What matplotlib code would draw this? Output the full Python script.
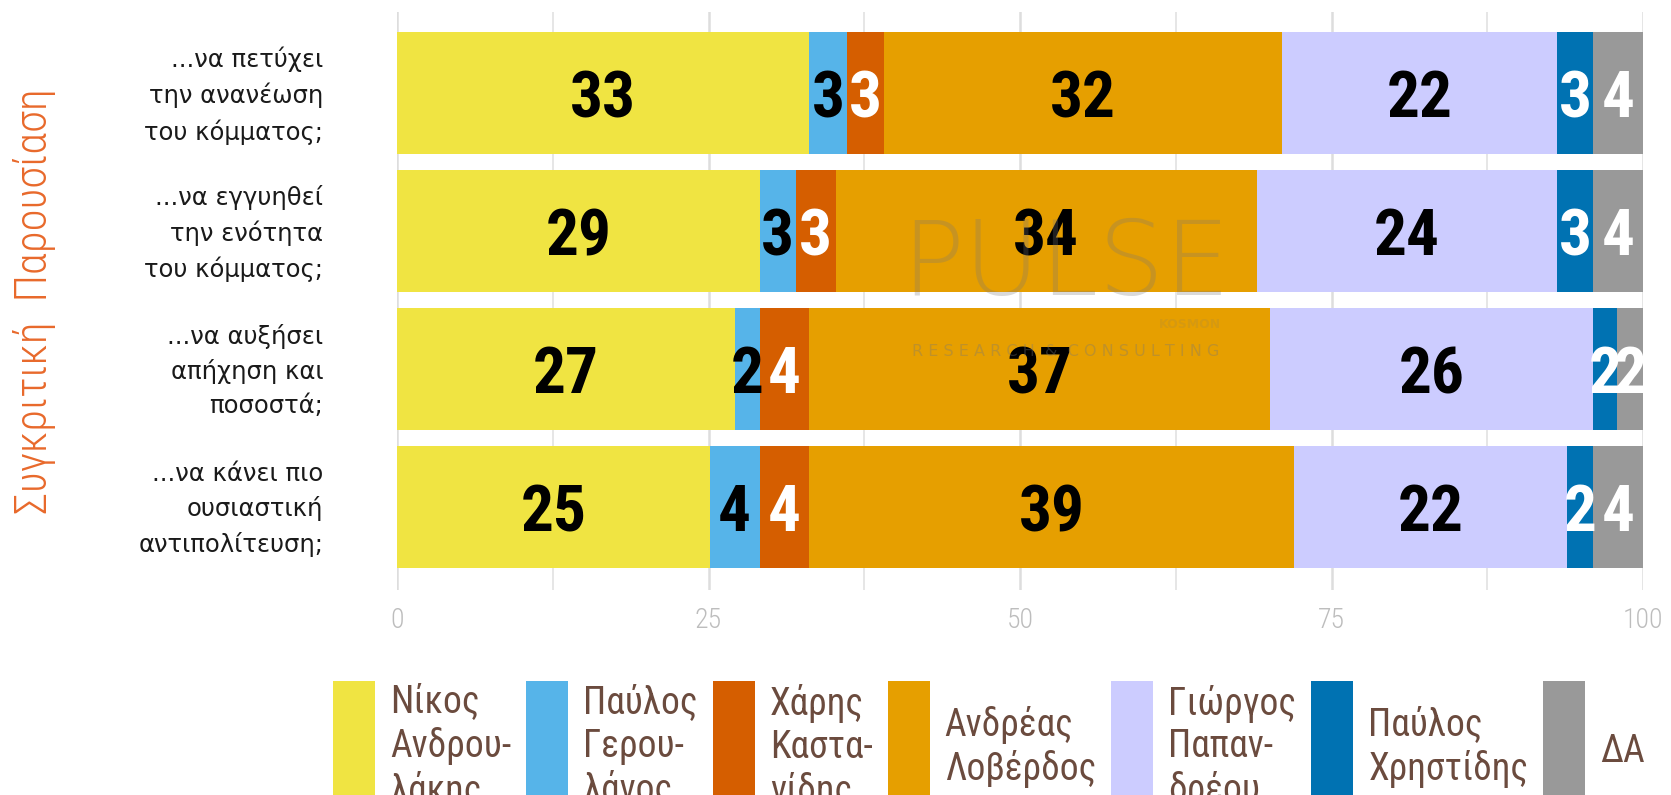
import matplotlib
matplotlib.use('Agg')
import matplotlib.pyplot as plt
import matplotlib.transforms as mtransforms
from matplotlib.patches import Patch, Rectangle
from matplotlib.legend_handler import HandlerPatch

# --- Data ---
questions = ['...να πετύχει\nτην ανανέωση\nτου κόμματος;',
             '...να εγγυηθεί\nτην ενότητα\nτου κόμματος;',
             '...να αυξήσει\nαπήχηση και\nποσοστά;',
             '...να κάνει πιο\nουσιαστική\nαντιπολίτευση;']
candidates = ['Νίκος\nΑνδρου-\nλάκης', 'Παύλος\nΓερου-\nλάνος', 'Χάρης\nΚαστα-\nνίδης',
              'Ανδρέας\nΛοβέρδος', 'Γιώργος\nΠαπαν-\nδρέου', 'Παύλος\nΧρηστίδης', 'ΔΑ']
androulakis = [33.1, 29.1, 27.1, 25.1]
geroulanos = [3.0, 2.9, 2.0, 4.0]
kastanidis = [3.0, 3.2, 4.0, 4.0]
loverdos = [31.9, 33.8, 37.0, 38.9]
papandreou = [22.1, 24.1, 25.9, 21.9]
christidis = [2.9, 2.9, 1.9, 2.1]
da = [4.0, 4.0, 2.1, 4.0]
series = [androulakis, geroulanos, kastanidis, loverdos, papandreou, christidis, da]

colors = ['#F0E442', '#56B4E9', '#D55E00', '#E69F00', '#CCCCFF', '#0072B2', '#999999']
label_colors = ['black', 'black', 'white', 'black', 'black', 'white', 'white']

COND = ['Roboto Condensed', 'DejaVu Sans']
W, H = 1671, 795

fig = plt.figure(figsize=(W / 100, H / 100), dpi=100)
ax = fig.add_axes([397 / W, 1 - 590 / H, (1643 - 397) / W, 578 / H])

# --- stacked bars ---
left = [0.0] * len(questions)
ypos = list(range(len(questions)))
for vals, col, lcol in zip(series, colors, label_colors):
    bars = ax.barh(ypos, vals, left=left, height=0.884, color=col, zorder=2)
    for b, v in zip(bars, vals):
        ax.text(b.get_x() + b.get_width() / 2, b.get_y() + b.get_height() / 2,
                f'{round(v):d}', ha='center', va='center_baseline',
                fontsize=47, fontweight='bold', color=lcol, family=COND, zorder=3)
    left = [l + v for l, v in zip(left, vals)]

ax.set_xlim(0, 100)
ax.set_ylim(3.601, -0.587)
ax.set_xticks([0, 25, 50, 75, 100])
ax.set_xticks([12.5, 37.5, 62.5, 87.5], minor=True)
ax.grid(which='major', axis='x', color='#DDDDDD', lw=1.8, zorder=0)
ax.grid(which='minor', axis='x', color='#E4E4E4', lw=1.3, zorder=0)
ax.set_axisbelow(True)
for s in ax.spines.values():
    s.set_visible(False)
ax.tick_params(axis='x', which='both', length=0, pad=12, labelsize=20, labelcolor='#BDBDBD')
for t in ax.get_xticklabels():
    t.set_family(COND)
    t.set_fontweight(300)
ax.set_yticks(ypos, questions)
ax.tick_params(axis='y', length=0, pad=53, labelsize=17.5, labelcolor='#1A1A1A')
lift = mtransforms.ScaledTranslation(0, 5.5 / 100, fig.dpi_scale_trans)
for t in ax.get_yticklabels():
    t.set_linespacing(1.53)
    t.set_transform(t.get_transform() + lift)

# side title
fig.text(35 / W, 1 - 301 / H, 'Συγκριτική  Παρουσίαση', rotation=90, ha='center', va='center',
         color='#E8692B', fontsize=32, fontweight=300, family=COND)

# watermark
fig.text(1066 / W, 1 - 266 / H, 'PULSE', ha='center', va='center', fontsize=75,
         fontweight='light', color='#777777', alpha=0.28, zorder=5)
fig.text(1190 / W, 1 - 325 / H, 'KOSMON', ha='center', va='center', fontsize=9,
         fontweight='bold', color='#777777', alpha=0.15, zorder=5)
fig.text(1066 / W, 1 - 352 / H, 'R E S E A R C H  &  C O N S U L T I N G', ha='center',
         va='center', fontsize=11.5, color='#777777', alpha=0.35, zorder=5)

# --- legend ---
LEG_FS = 27


def tall_patch(legend, orig_handle, xdescent, ydescent, width, height, fontsize):
    top = 0.35 * fontsize + 67 / 1.389
    bottom = 0.35 * fontsize - 130 / 1.389
    return Rectangle((-xdescent, bottom), width, top - bottom)


handles = [Patch(facecolor=c, edgecolor='none') for c in colors]
leg = fig.legend(handles, candidates, ncol=7, loc='center left',
                 bbox_to_anchor=(333 / W, 1 - 747 / H), frameon=False,
                 prop={'family': COND, 'size': LEG_FS},
                 handlelength=1.12, handleheight=2.0, handletextpad=0.4,
                 columnspacing=0.4, borderpad=0, borderaxespad=0,
                 handler_map={Patch: HandlerPatch(patch_func=tall_patch)})
for t in leg.get_texts():
    t.set_color('#6B4B3E')
    t.set_linespacing(1.2)

fig.savefig('out.png', dpi=100)
